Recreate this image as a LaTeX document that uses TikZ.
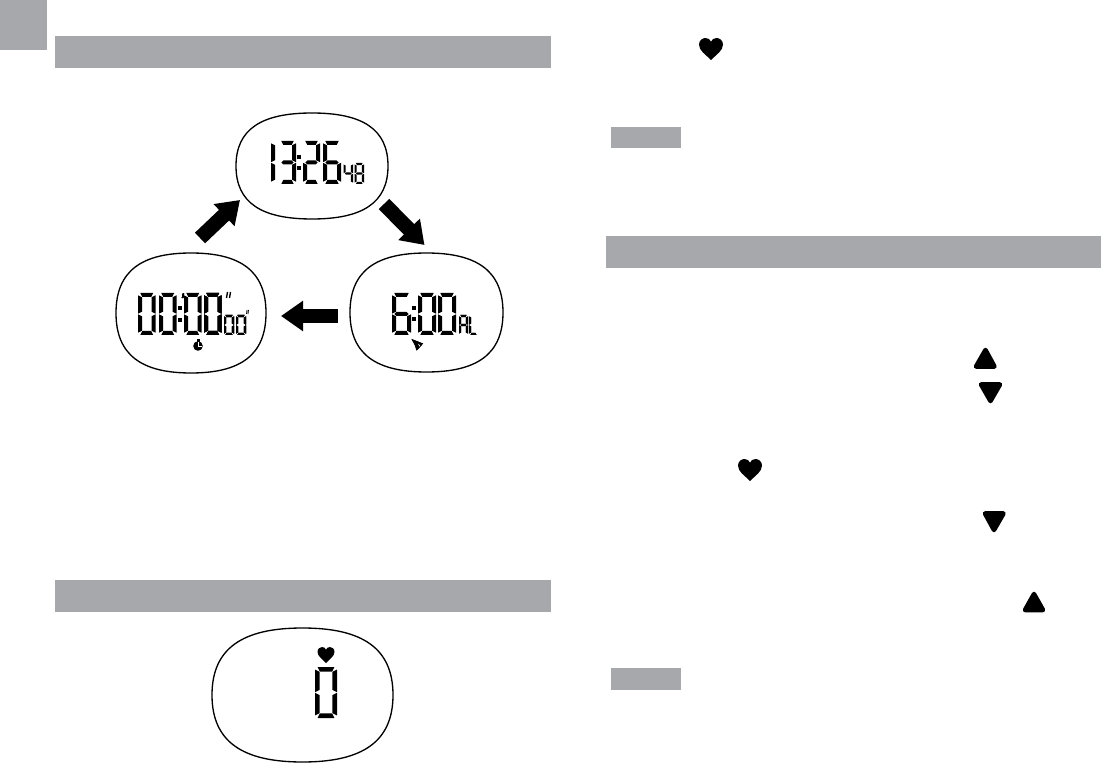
\documentclass[tikz,border=0pt]{standalone}
\usepackage{xcolor}
\usepackage{tikz}
\usetikzlibrary{arrows.meta,positioning}
\definecolor{bargray}{HTML}{A7A8AB}
\tikzset{
  barfill/.style={fill=bargray,draw=none},
  blobline/.style={draw=black,line width=1pt},
  lcdseg/.style={fill=black,draw=none},
  fatarrow/.style={line width=11pt,-{Triangle[length=16.5pt,width=21.75pt]}},
  roundtri/.style={fill=black,draw=black,line width=3.4pt,line join=round}
}
% segments of one digit: a top, b/c right, d bottom, e/f left, g middle
\def\lcda{(\segt*.5+\segg,0)--(\segw-\segt*.5-\segg,0)--(\segw-\segt-\segg,\segt)--(\segt+\segg,\segt)--cycle}
\def\lcdb{(\segw,\segt*.5+\segg)--(\segw,\segh*.5-\segg)--(\segw-\segt,\segh*.5-\segg-\segt*.5)--(\segw-\segt,\segt+\segg)--cycle}
\def\lcdc{(\segw,\segh-\segt*.5-\segg)--(\segw,\segh*.5+\segg)--(\segw-\segt,\segh*.5+\segg+\segt*.5)--(\segw-\segt,\segh-\segt-\segg)--cycle}
\def\lcdd{(\segt*.5+\segg,\segh)--(\segw-\segt*.5-\segg,\segh)--(\segw-\segt-\segg,\segh-\segt)--(\segt+\segg,\segh-\segt)--cycle}
\def\lcde{(0,\segh-\segt*.5-\segg)--(0,\segh*.5+\segg)--(\segt,\segh*.5+\segg+\segt*.5)--(\segt,\segh-\segt-\segg)--cycle}
\def\lcdf{(0,\segt*.5+\segg)--(0,\segh*.5-\segg)--(\segt,\segh*.5-\segg-\segt*.5)--(\segt,\segt+\segg)--cycle}
\def\lcdg{(\segt+\segg,\segh*.5-\segt*.5)--(\segw-\segt-\segg,\segh*.5-\segt*.5)--(\segw-\segt*.5-\segg,\segh*.5)--(\segw-\segt-\segg,\segh*.5+\segt*.5)--(\segt+\segg,\segh*.5+\segt*.5)--(\segt*.5+\segg,\segh*.5)--cycle}
\newcommand\lcddigit[6]{%
  \begin{scope}[shift={(#1,#2)}]
    \def\segw{#3}\def\segh{#4}\def\segt{#5}\def\segg{.3}
    \foreach \s in {#6}
      \fill[lcdseg] \csname lcd\s\endcsname;
  \end{scope}}
\newcommand\lcdcolon[3]{%
  \fill[lcdseg] (#1-1.7,#2-1.7) rectangle (#1+1.7,#2+1.7);
  \fill[lcdseg] (#1-1.7,#3-1.7) rectangle (#1+1.7,#3+1.7);}
\newcommand\lcdblob[5]{%
  \coordinate (#1) at (#2,#3);
  \draw[blobline] (#2-#4,#3) .. controls (#2-#4,#3-.7*#5) and (#2-.66*#4,#3-#5) .. (#2,#3-#5)
    .. controls (#2+.66*#4,#3-#5) and (#2+#4,#3-.7*#5) .. (#2+#4,#3)
    .. controls (#2+#4,#3+.7*#5) and (#2+.66*#4,#3+#5) .. (#2,#3+#5)
    .. controls (#2-.66*#4,#3+#5) and (#2-#4,#3+.7*#5) .. (#2-#4,#3) -- cycle;}
\newcommand\lcdheart[4]{%
  \fill[shift={(#1,#2)},xscale=#3,yscale=#4] (0,1) .. controls (-.45,.5) and (-1,.15) .. (-1,-.4)
    .. controls (-1,-.8) and (-.7,-1) .. (-.45,-1) .. controls (-.22,-1) and (-.06,-.85) .. (0,-.66)
    .. controls (.06,-.85) and (.22,-1) .. (.45,-1) .. controls (.7,-1) and (1,-.8) .. (1,-.4)
    .. controls (1,.15) and (.45,.5) .. (0,1) -- cycle;}
\begin{document}
\begin{tikzpicture}[x=.75pt,y=-.75pt]
  \useasboundingbox (0,0) rectangle (1101,763);
  % gray bars
  \fill[barfill] (0,0) rectangle (47,50);
  \fill[barfill] (55,36) rectangle (551,68);
  \fill[barfill] (55,580) rectangle (551,612);
  \fill[barfill] (606,236) rectangle (1101,268);
  \fill[barfill] (611,127) rectangle (681,148);
  \fill[barfill] (611,668) rectangle (681,690);
  % displays
  \lcdblob{clock}{312}{166}{76}{53}
  \lcdblob{watch}{191}{313}{75}{60}
  \lcdblob{alarm}{426.5}{312.5}{76.5}{59.5}
  \lcdblob{pulse}{302.5}{695}{90.5}{67}
  % 13:26 48
  \lcddigit{271}{141}{5}{43}{4}{e,f}
  \lcddigit{279}{141}{17}{43}{4}{a,b,c,d,g}
  \lcdcolon{299}{157}{168}
  \lcddigit{303}{141}{17}{43}{4}{a,b,d,e,g}
  \lcddigit{323}{141}{18}{43}{4}{a,c,d,e,f,g}
  \lcddigit{343.5}{163}{9.5}{21}{2.2}{b,c,f,g}
  \lcddigit{354.5}{163}{9.5}{21}{2.2}{a,b,c,d,e,f,g}
  % 00:00 00
  \foreach \x in {138,159,184}
    \lcddigit{\x}{293}{17.5}{42}{4}{a,b,c,d,e,f}
  \lcddigit{204}{293}{17.5}{42}{4}{a,b,c,d,e,f}
  \lcdcolon{180}{308}{320}
  \foreach \x in {224,236}
    \lcddigit{\x}{315}{10}{20}{2.2}{a,b,c,d,e,f}
  \draw[line width=1pt] (183.5,293.5) -- (182.5,298);
  \draw[line width=1pt] (227.5,292) -- (226.5,298) (230.5,292) -- (229.5,298);
  \draw[line width=.6pt] (247,310) -- (246.5,314) (248.5,310) -- (248,314);
  \fill (198,346) circle (4.8);
  \fill (196.5,339.5) rectangle (199.5,342);
  \draw[white,line width=.6pt] (198,342.5) -- (198,346) -- (201.5,346);
  % 6:00 AL
  \lcddigit{392}{293}{19}{42}{4}{a,c,d,e,f,g}
  \lcdcolon{414}{308}{319}
  \foreach \x in {418,438}
    \lcddigit{\x}{293}{18}{42}{4}{a,b,c,d,e,f}
  \lcddigit{459}{315}{9}{20}{2.2}{a,b,c,e,f,g}
  \lcddigit{469}{315}{9}{20}{2.2}{d,e,f}
  \fill (411.5,339) -- (423,343.5) -- (420.5,346.5) -- (416.5,350.5) -- (415,345.5) -- cycle;
  \draw[white,line width=.5pt] (418.5,344) -- (420,346.5);
  % 0 with heart
  \lcddigit{315}{667}{22}{51}{4.6}{a,b,c,d,e,f}
  \lcdheart{326}{655}{8.5}{8}
  % arrows between displays
  \coordinate (tailA) at (384,204);
  \coordinate (tipA) at (424.5,245);
  \coordinate (tailB) at (338,316);
  \coordinate (tipB) at (281,316);
  \coordinate (tailC) at (200,238);
  \coordinate (tipC) at (240,200);
  \draw[fatarrow] (tailA) -- (tipA);
  \draw[fatarrow] (tailB) -- (tipB);
  \draw[fatarrow] (tailC) -- (tipC);
  % key symbols
  \lcdheart{711}{49}{12}{11}
  \lcdheart{750}{470}{12}{11}
  \fill[roundtri] (985.5,350) -- (994.5,366.5) -- (976,366.5) -- cycle;
  \fill[roundtri] (981,384.5) -- (1000,384.5) -- (990.5,401) -- cycle;
  \fill[roundtri] (985,513.5) -- (1003.5,513.5) -- (994,530) -- cycle;
  \fill[roundtri] (1034,594) -- (1043,610) -- (1025,610) -- cycle;
\end{tikzpicture}
\end{document}
